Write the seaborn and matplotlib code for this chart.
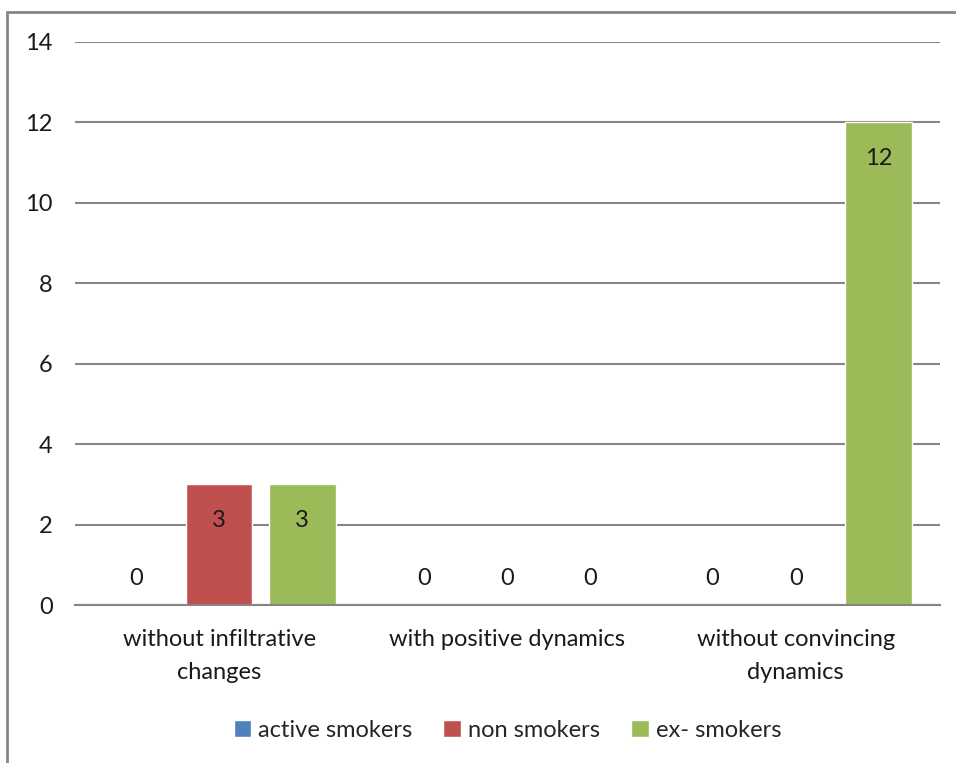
import numpy as np
import pandas as pd
import matplotlib
matplotlib.use("Agg")
import matplotlib.pyplot as plt
import matplotlib.patches as mpatches
import seaborn as sns

categories = ["without infiltrative\nchanges", "with positive dynamics", "without convincing\ndynamics"]
series = ["active smokers", "non smokers", "ex- smokers"]
active = [0, 0, 0]
non = [3, 0, 0]
ex = [3, 0, 12]
colors = ["#4F81BD", "#C0504D", "#9BBB59"]

df = pd.DataFrame({
    "cat": categories * 3,
    "group": [series[0]] * 3 + [series[1]] * 3 + [series[2]] * 3,
    "val": active + non + ex,
})

sns.set_style("white")
plt.rcParams["font.family"] = ["Lato", "DejaVu Sans"]
fs = 17

fig = plt.figure(figsize=(9.56, 7.63), dpi=100)
ax = fig.add_axes([0.0785, 0.207, 0.9045, 0.738])

sns.barplot(data=df, x="cat", y="val", hue="group", palette=colors,
            width=0.865, gap=0.2, saturation=1, ax=ax, legend=True)

ax.set_ylim(0, 14)
ax.set_yticks(np.arange(0, 15, 2))
ax.set_xlim(-0.5, 2.5)
ax.yaxis.grid(True, color="#868686", linewidth=1.5)
ax.set_axisbelow(True)
for s in ["top", "right", "left"]:
    ax.spines[s].set_visible(False)
ax.spines["bottom"].set_color("#868686")
ax.spines["bottom"].set_linewidth(1.5)
ax.tick_params(axis="both", length=0, labelsize=fs, colors="#1a1a1a")
ax.tick_params(axis="y", pad=16)
ax.tick_params(axis="x", pad=17)
for t in ax.get_xticklabels():
    t.set_linespacing(1.75)
ax.set_xlabel("")
ax.set_ylabel("")

# value labels
for cont in ax.containers:
    for p in cont.patches:
        h = p.get_height()
        xc = p.get_x() + p.get_width() / 2
        off = 27 if h == 0 else -36
        ax.annotate(f"{h:g}", (xc, h), xytext=(0, off), textcoords="offset pixels",
                    ha="center", va="center", fontsize=fs, color="#1a1a1a")

handles, labels = ax.get_legend_handles_labels()
ax.legend(handles, labels, loc="center", bbox_to_anchor=(0.5, -0.222), ncol=3,
          frameon=False, fontsize=fs, handlelength=0.75, handleheight=0.75,
          handletextpad=0.3, columnspacing=1.3)

fig.patches.append(mpatches.Rectangle((7 / 956, -0.1), 1.2, 1 - 12 / 763 + 0.1,
                                      transform=fig.transFigure, fill=False,
                                      edgecolor="#868686", linewidth=2))

fig.savefig("out.png", dpi=100)
